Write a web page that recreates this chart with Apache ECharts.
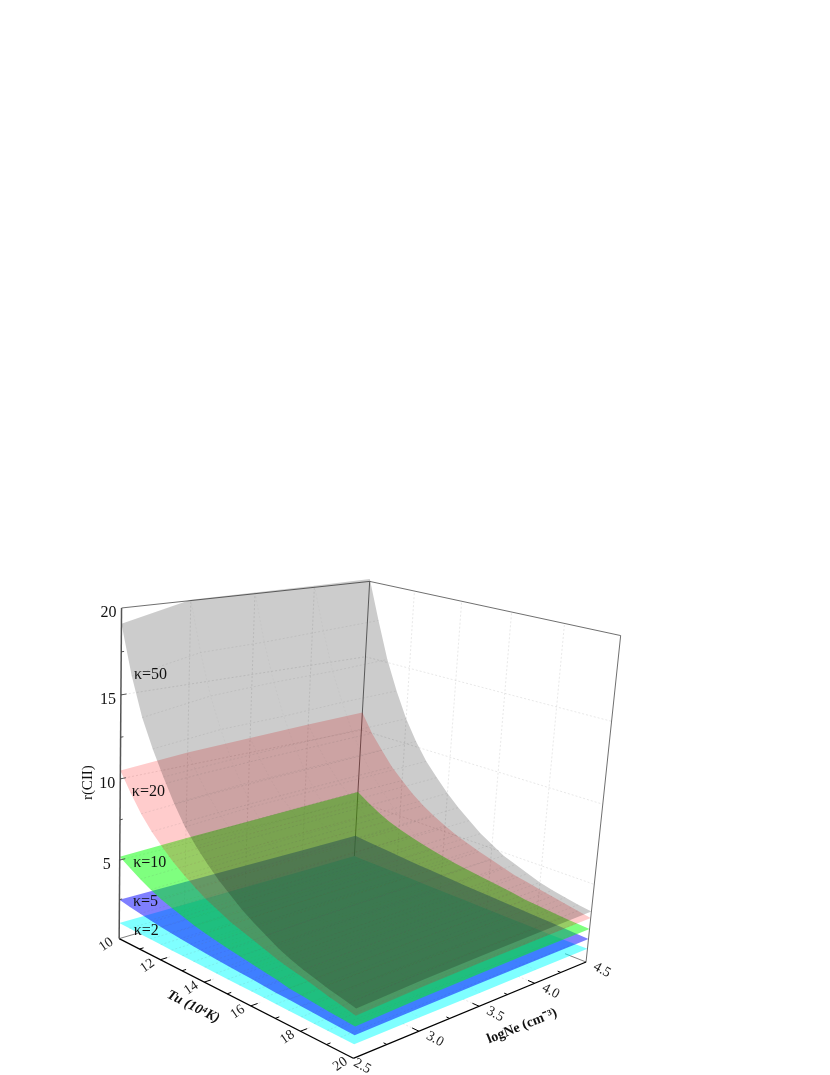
<!DOCTYPE html>
<html><head><meta charset="utf-8">
<style>html,body{margin:0;padding:0;background:#fff}#c{width:830px;height:1075px}</style>
<script src="https://cdn.jsdelivr.net/npm/echarts@6/dist/echarts.min.js"></script>
</head><body><div id="c"></div>
<script>
const tValues=[10,10.5,11,11.5,12,12.5,13,13.5,14,14.5,15,15.5,16,16.5,17,17.5,18,18.5,19,19.5,20];
const neValues=[2.5,3,3.5,4,4.5];
const tTicks=[10,12,14,16,18,20];
const neTicks=[2.5,3,3.5,4,4.5];
const rTicks=[5,10,15,20];
const kappaNames=['κ=2','κ=5','κ=10','κ=20','κ=50'];
const kappa2=[[1,1.01,1.02,1.02,1.03],[.99,1,1.01,1.01,1.02],[.98,.99,1,1,1.01],[.97,.98,.99,.99,1],[.95,.97,.98,.98,.99],[.94,.96,.97,.97,.98],[.93,.95,.96,.96,.97],[.92,.94,.95,.95,.96],[.91,.93,.94,.94,.95],[.9,.92,.93,.93,.94],[.89,.91,.92,.92,.93],[.88,.9,.91,.91,.92],[.87,.89,.9,.9,.91],[.86,.88,.89,.89,.9],[.85,.87,.88,.88,.89],[.84,.86,.87,.87,.88],[.83,.85,.86,.86,.87],[.82,.84,.85,.85,.86],[.81,.83,.84,.85,.86],[.805,.83,.84,.85,.86],[.8,.82,.83,.85,.86]];
const kappa5=[[2.5,2.5,2.5,2.5,2.5],[2.37,2.39,2.41,2.42,2.43],[2.25,2.29,2.32,2.34,2.36],[2.15,2.21,2.25,2.28,2.3],[2.05,2.13,2.17,2.21,2.24],[1.97,2.05,2.11,2.15,2.18],[1.9,1.99,2.04,2.09,2.12],[1.84,1.93,1.99,2.04,2.07],[1.78,1.88,1.94,1.98,2.02],[1.73,1.83,1.89,1.93,1.97],[1.68,1.78,1.84,1.88,1.92],[1.64,1.74,1.8,1.84,1.88],[1.6,1.7,1.76,1.8,1.84],[1.55,1.65,1.71,1.76,1.8],[1.5,1.6,1.67,1.72,1.76],[1.47,1.57,1.63,1.68,1.72],[1.44,1.54,1.6,1.64,1.68],[1.4,1.5,1.56,1.6,1.64],[1.37,1.46,1.52,1.57,1.6],[1.33,1.42,1.47,1.52,1.55],[1.3,1.38,1.43,1.47,1.5]];
const kappa10=[[5.2,5.35,5.45,5.55,5.65],[4.8,4.95,5.05,5.12,5.18],[4.4,4.53,4.62,4.68,4.74],[4.05,4.18,4.27,4.33,4.38],[3.75,3.89,3.98,4.05,4.1],[3.53,3.67,3.75,3.81,3.87],[3.32,3.46,3.54,3.6,3.66],[3.12,3.26,3.36,3.43,3.48],[2.96,3.1,3.2,3.27,3.32],[2.82,2.96,3.04,3.11,3.16],[2.7,2.84,2.94,3,3.05],[2.59,2.73,2.82,2.89,2.94],[2.48,2.62,2.71,2.78,2.83],[2.37,2.51,2.6,2.67,2.72],[2.26,2.4,2.49,2.56,2.61],[2.12,2.26,2.35,2.42,2.47],[2.05,2.19,2.28,2.35,2.4],[1.97,2.11,2.2,2.27,2.32],[1.9,2.04,2.13,2.2,2.25],[1.85,1.99,2.08,2.15,2.2],[1.8,1.94,2.03,2.1,2.15]];
const kappa20=[[10.5,10.8,10.95,11.1,11.2],[9.4,9.65,9.8,9.9,10],[8.4,8.65,8.8,8.9,9.05],[7.6,7.8,7.95,8.05,8.15],[6.95,7.15,7.3,7.4,7.45],[6.35,6.55,6.65,6.75,6.8],[5.85,6,6.1,6.2,6.25],[5.4,5.55,5.65,5.7,5.8],[5,5.15,5.25,5.35,5.4],[4.68,4.83,4.93,5,5.05],[4.35,4.5,4.6,4.7,4.77],[4.12,4.27,4.36,4.44,4.5],[3.9,4.05,4.14,4.22,4.27],[3.66,3.81,3.9,3.98,4.03],[3.43,3.58,3.67,3.75,3.8],[3.26,3.41,3.51,3.58,3.64],[3.1,3.25,3.35,3.42,3.48],[2.91,3.07,3.18,3.26,3.32],[2.73,2.9,3,3.09,3.16],[2.57,2.74,2.85,2.93,3],[2.4,2.58,2.69,2.77,2.85]];
const kappa50=[[19.1,20.05,20.08,20.1,20.15],[16.3,17.1,17.2,17.4,17.6],[14.1,14.7,14.9,15,15.2],[12.5,12.9,13,13.2,13.3],[11.1,11.3,11.45,11.55,11.65],[9.8,10.05,10.15,10.25,10.35],[8.7,8.95,9.05,9.15,9.25],[7.85,8.05,8.2,8.3,8.4],[7.1,7.3,7.4,7.5,7.6],[6.45,6.6,6.7,6.8,6.9],[5.9,6.05,6.15,6.25,6.3],[5.35,5.5,5.6,5.65,5.7],[4.9,5.05,5.15,5.2,5.25],[4.5,4.62,4.7,4.76,4.8],[4.1,4.28,4.35,4.43,4.5],[3.8,3.96,4.05,4.12,4.2],[3.55,3.7,3.8,3.87,3.92],[3.34,3.49,3.58,3.66,3.71],[3.13,3.3,3.4,3.49,3.55],[2.97,3.14,3.24,3.33,3.39],[2.8,2.98,3.1,3.2,3.27]];
const surfaces=[kappa2,kappa5,kappa10,kappa20,kappa50];

// camera: perspective fitted to the corners of the plot box
const tRange=[10,20],neRange=[2.5,4.5],rRange=[0,20];
const boxCalibration=[[0,0,0,119,938],[0,0,1,122,608],[1,0,0,353,1059],[1,1,0,586,961],[1,1,1,621,636],[0,1,0,354,871],[0,1,1,369,581]];
function solveCamera(pts){
  const rows=[],rhs=[];
  pts.forEach(([u,v,w,x,y])=>{
    rows.push([1,u,v,w,0,0,0,0,-x*u,-x*v,-x*w]);rhs.push(x);
    rows.push([0,0,0,0,1,u,v,w,-y*u,-y*v,-y*w]);rhs.push(y);
  });
  const n=11,A=[];
  for(let i=0;i<n;i++){A.push([]);for(let j=0;j<=n;j++){let s=0;rows.forEach((r,k)=>{s+=r[i]*(j<n?r[j]:rhs[k]);});A[i].push(s);}}
  for(let i=0;i<n;i++){
    let p=i;for(let k=i+1;k<n;k++)if(Math.abs(A[k][i])>Math.abs(A[p][i]))p=k;
    [A[i],A[p]]=[A[p],A[i]];
    for(let k=0;k<n;k++){if(k===i)continue;const f=A[k][i]/A[i][i];for(let j=i;j<=n;j++)A[k][j]-=f*A[i][j];}
  }
  return A.map((r,i)=>r[n]/r[i]);
}
const cam=solveCamera(boxCalibration);
function project(T,Ne,r){
  const u=(T-tRange[0])/(tRange[1]-tRange[0]),v=(Ne-neRange[0])/(neRange[1]-neRange[0]),w=(r-rRange[0])/(rRange[1]-rRange[0]);
  const d=1+cam[8]*u+cam[9]*v+cam[10]*w;
  return [(cam[0]+cam[1]*u+cam[2]*v+cam[3]*w)/d,(cam[4]+cam[5]*u+cam[6]*v+cam[7]*w)/d];
}
const SERIF='"Liberation Serif","Times New Roman",serif';
const fills=['rgba(0,255,255,0.5)','rgba(0,0,255,0.5)','rgba(0,255,0,0.5)','rgba(255,0,0,0.2)','rgba(0,0,0,0.2)'];

function seg(api,a,b,stroke,lw,dash){
  const p=api.coord(project(...a)),q=api.coord(project(...b));
  return {type:'line',shape:{x1:p[0],y1:p[1],x2:q[0],y2:q[1]},style:{stroke,lineWidth:lw,lineDash:dash||null,fill:null},silent:true};
}
function txt(api,a,dx,dy,text,font,rot,fill){
  const p=api.coord(project(...a));
  return {type:'text',x:p[0]+dx,y:p[1]+dy,rotation:rot||0,style:{text,font,fill:fill||'#111',align:'center',verticalAlign:'middle'},silent:true};
}
function renderGrid(params,api){
  const c=[],col='rgba(130,130,130,0.3)',dash=[2,2],lw=0.6;
  [12,14,16,18].forEach(t=>{
    c.push(seg(api,[t,4.5,0],[t,4.5,20],col,lw,dash));
    c.push(seg(api,[t,2.5,0],[t,2.58,0],col,lw,dash));
  });
  [3,3.5,4].forEach(n=>{
    c.push(seg(api,[10,n,0],[10,n,20],col,lw,dash));
    c.push(seg(api,[20,n,0],[19.4,n,0],col,lw,dash));
  });
  rTicks.slice(0,3).forEach(r=>{
    c.push(seg(api,[10,2.5,r],[10,4.5,r],col,lw,dash));
    c.push(seg(api,[10,4.5,r],[20,4.5,r],col,lw,dash));
  });
  const dk='#4a4a4a';
  c.push(seg(api,[10,2.5,20],[10,4.5,20],dk,0.8));
  c.push(seg(api,[10,4.5,20],[20,4.5,20],dk,0.8));
  c.push(seg(api,[10,4.5,1.03],[10,4.5,20],dk,0.8));
  c.push(seg(api,[20,4.5,0],[20,4.5,20],dk,0.8));
  c.push(seg(api,[10,2.5,0],[10,2.65,0],dk,0.7));
  c.push(seg(api,[20,4.5,0],[19.2,4.5,0],dk,0.7));
  return {type:'group',children:c};
}
function renderSurface(params,api){
  const k=api.value(0),z=surfaces[k],c=[],nT=tValues.length,nN=neValues.length,outline=[];
  for(let i=0;i<nT;i++)outline.push(api.coord(project(tValues[i],neValues[0],z[i][0])));
  for(let j=1;j<nN;j++)outline.push(api.coord(project(tValues[nT-1],neValues[j],z[nT-1][j])));
  for(let i=nT-2;i>=0;i--)outline.push(api.coord(project(tValues[i],neValues[nN-1],z[i][nN-1])));
  for(let j=nN-2;j>0;j--)outline.push(api.coord(project(tValues[0],neValues[j],z[0][j])));
  c.push({type:'polygon',shape:{points:outline},style:{fill:fills[k],stroke:null},silent:true});
  for(let i=1;i<nT-1;i++){
    const pts=neValues.map((n,j)=>api.coord(project(tValues[i],n,z[i][j])));
    c.push({type:'polyline',shape:{points:pts},style:{stroke:'rgba(95,95,95,0.2)',lineWidth:0.6,lineDash:[2,2],fill:null},silent:true});
  }
  for(let j=1;j<nN-1;j++){
    const pts=tValues.map((t,i)=>api.coord(project(t,neValues[j],z[i][j])));
    c.push({type:'polyline',shape:{points:pts},style:{stroke:'rgba(95,95,95,0.1)',lineWidth:0.6,lineDash:[2,2],fill:null},silent:true});
  }
  return {type:'group',children:c};
}
function renderAxes(params,api){
  const c=[];
  c.push(seg(api,[10,2.5,0],[20,2.5,0],'#000',1.3));
  c.push(seg(api,[20,2.5,0],[20,4.5,0],'#000',1.3));
  c.push(seg(api,[10,2.5,0],[10,2.5,20],'#555',1.5));
  for(let t=11;t<20;t++) c.push(seg(api,[t,2.5,0],[t,t%2?2.53:2.55,0],'#000',1));
  for(let n=2.75;n<4.5;n+=0.25) c.push(seg(api,[20,n,0],[(n*2)%1?19.88:19.75,n,0],'#000',1));
  for(let r=2.5;r<20;r+=2.5) c.push(seg(api,[10,2.5,r],[10,r%5?2.52:2.54,r],'#444',0.9));
  tTicks.forEach(t=>c.push(txt(api,[t,2.5,0],-13,6,String(t),'14px '+SERIF,0.6,'#222')));
  neTicks.forEach(n=>c.push(txt(api,[20,n,0],n===2.5?9:16,8,n.toFixed(1),'14px '+SERIF,-0.5,'#222')));
  rTicks.forEach(r=>c.push(txt(api,[10,2.5,r],-13,5,String(r),'16px '+SERIF)));
  c.push(txt(api,[10,2.5,0],-31,-156,'r(CII)','15px '+SERIF,Math.PI/2));
  c.push(txt(api,[15,2.5,0],-34,13,'Tu (10⁴K)','italic bold 14px '+SERIF,-0.47));
  c.push(txt(api,[20,3.5,0],43,20,'logNe (cm⁻³)','bold 14px '+SERIF,0.38));
  const anchors=[[1.0,27,8],[2.5,26,2],[5.2,30,6],[10.5,28,21],[19.1,29,51]];
  kappaNames.forEach((nm,i)=>{
    const a=anchors[i];
    c.push(txt(api,[10,2.5,a[0]],a[1],a[2],nm,'16px '+SERIF,0,'#111'));
  });
  return {type:'group',children:c};
}
const chart=echarts.init(document.getElementById('c'),null,{renderer:'canvas'});
chart.setOption({
  animation:false,backgroundColor:'#fff',
  grid:{left:0,right:0,top:0,bottom:0},
  xAxis:{type:'value',min:0,max:830,show:false},
  yAxis:{type:'value',min:0,max:1075,inverse:true,show:false},
  series:[
    {type:'custom',coordinateSystem:'cartesian2d',clip:false,silent:true,z:1,data:[[0]],renderItem:renderGrid},
    ...surfaces.map((s,k)=>({type:'custom',name:kappaNames[k],coordinateSystem:'cartesian2d',clip:false,silent:true,z:2+k,data:[[k]],encode:{x:0},renderItem:renderSurface})),
    {type:'custom',coordinateSystem:'cartesian2d',clip:false,silent:true,z:10,data:[[0]],renderItem:renderAxes}
  ]
});
</script></body></html>
